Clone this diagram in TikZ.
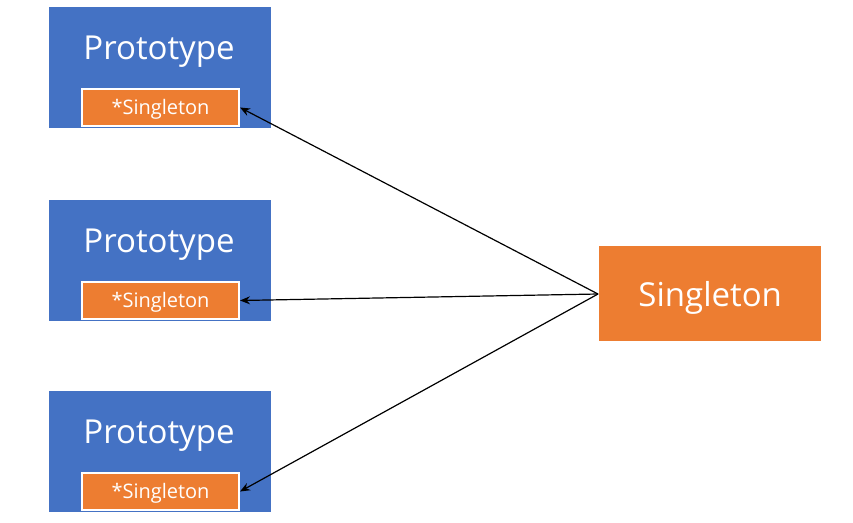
\documentclass[tikz,border=0pt]{standalone}
\usepackage{fontspec}
\setmainfont{Open Sans}
\usetikzlibrary{arrows.meta}
\definecolor{pblue}{HTML}{4472C4}
\definecolor{porange}{HTML}{ED7D31}
\tikzset{
  protobox/.style={fill=pblue, draw=none, minimum width=222pt, minimum height=121pt, inner sep=0pt, anchor=north west},
  protolabel/.style={text=white, font=\fontsize{33}{36}\selectfont, inner sep=0pt},
  innerbox/.style={fill=porange, draw=white, line width=2pt, minimum width=157pt, minimum height=37pt, inner sep=0pt, anchor=north west, text=white, font=\fontsize{20}{23}\selectfont, text height=14pt, text depth=0pt},
  singbox/.style={fill=porange, draw=none, minimum width=222pt, minimum height=95pt, inner sep=0pt, anchor=north west, text=white, font=\fontsize{33}{36}\selectfont, text height=25pt, text depth=0pt},
  conn/.style={-{Stealth[length=10pt,width=8pt]}, line width=1.2pt, black}
}
\begin{document}
\begin{tikzpicture}[x=1pt,y=-1pt]
\useasboundingbox (0,0) rectangle (853,522);
\node[protobox] (p1) at (49,7) {};
\node[protobox] (p2) at (49,200) {};
\node[protobox] (p3) at (49,391) {};
\node[protolabel] (t1) at (159,52) {Prototype};
\node[protolabel] (t2) at (159,245) {Prototype};
\node[protolabel] (t3) at (159,436) {Prototype};
\node[innerbox] (s1) at (81,88) {*Singleton};
\node[innerbox] (s2) at (81,281) {*Singleton};
\node[innerbox] (s3) at (81,472) {*Singleton};
\node[singbox] (sg) at (599,246) {Singleton};
\coordinate (o) at (598,294);
\draw[conn] (o) -- (s1.east);
\draw[conn] (o) -- (s2.east);
\draw[conn] (o) -- (s3.east);
\end{tikzpicture}
\end{document}
